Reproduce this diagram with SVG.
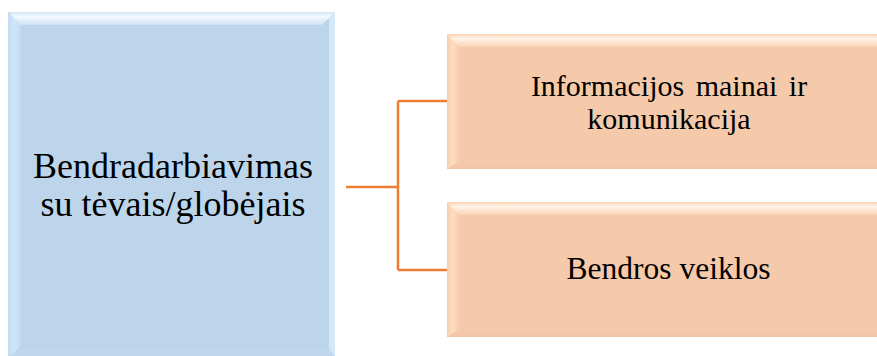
<svg xmlns="http://www.w3.org/2000/svg" width="877" height="356" viewBox="0 0 877 356">
<defs>
<linearGradient id="topB" x1="0" y1="0" x2="0" y2="1">
<stop offset="0" stop-color="#d2e5f6"/>
<stop offset="0.35" stop-color="#f4faff"/>
<stop offset="1" stop-color="#cde1f3"/>
</linearGradient>
<linearGradient id="leftB" x1="0" y1="0" x2="1" y2="0">
<stop offset="0" stop-color="#c4dcf2"/>
<stop offset="0.5" stop-color="#d0e6fa"/>
<stop offset="1" stop-color="#c2daef"/>
</linearGradient>
<linearGradient id="topO" x1="0" y1="0" x2="0" y2="1">
<stop offset="0" stop-color="#f8d2b4"/>
<stop offset="0.35" stop-color="#fff4e6"/>
<stop offset="1" stop-color="#f8d4b8"/>
</linearGradient>
<linearGradient id="leftO" x1="0" y1="0" x2="1" y2="0">
<stop offset="0" stop-color="#f6ceae"/>
<stop offset="0.5" stop-color="#fddcc2"/>
<stop offset="1" stop-color="#f6cdae"/>
</linearGradient>
</defs>
<style>
.t{font-family:"Liberation Serif","Times New Roman",serif;fill:#000;text-anchor:middle}
.conn{fill:none;stroke:#ed7d31;stroke-width:2.5}
</style>
<rect width="877" height="356" fill="#ffffff"/>
<g id="node-main">
<rect x="8" y="12" width="327" height="346" fill="#bcd5eb"/>
<polygon points="8,12 335,12 322,25 21,25" fill="url(#topB)"/>
<polygon points="8,12 21,25 21,346 8,358" fill="url(#leftB)"/>
<polygon points="335,12 335,358 329,352 329,18" fill="#d6e8f8"/>
<polygon points="8,356 335,356 329,349 21,349" fill="#c0d8ee"/>
<text class="t" font-size="36" x="173" y="178">Bendradarbiavimas</text>
<text class="t" font-size="36" x="173" y="216">su tėvais/globėjais</text>
</g>
<g id="node-info">
<rect x="447" y="34" width="450" height="135" fill="#f5caab"/>
<polygon points="447,34 897,34 885,47 459,47" fill="url(#topO)"/>
<polygon points="447,34 459,47 459,161 447,169" fill="url(#leftO)"/>
<polygon points="447,169 897,169 885,163 459,163" fill="#f3c7a7"/>
<text class="t" font-size="30" x="669" y="96" word-spacing="4">Informacijos mainai ir</text>
<text class="t" font-size="30" x="669" y="129">komunikacija</text>
</g>
<g id="node-veiklos">
<rect x="447" y="202" width="450" height="135" fill="#f5caab"/>
<polygon points="447,202 897,202 885,215 459,215" fill="url(#topO)"/>
<polygon points="447,202 459,215 459,329 447,337" fill="url(#leftO)"/>
<polygon points="447,337 897,337 885,331 459,331" fill="#f3c7a7"/>
<text class="t" font-size="31.5" x="668.5" y="279">Bendros veiklos</text>
</g>
<g id="connectors">
<path class="conn" d="M346,187 H398 M398,101 V270 M398,101 H447 M398,270 H447"/>
</g>
</svg>
